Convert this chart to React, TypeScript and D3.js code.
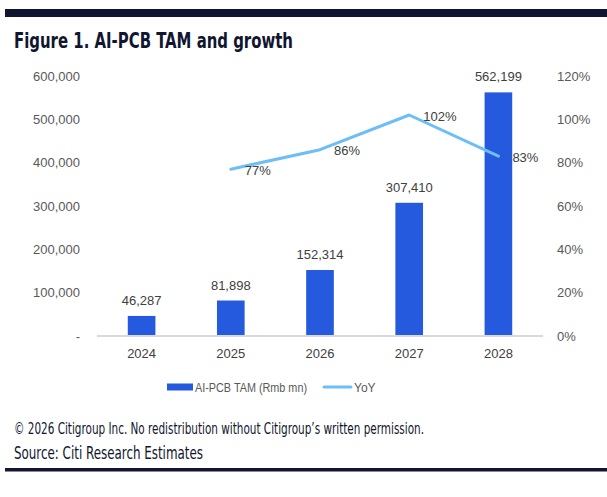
import React, { useEffect, useRef } from "react";
import * as d3 from "d3";

const years = ["2024", "2025", "2026", "2027", "2028"];
const tam = [46287, 81898, 152314, 307410, 562199];
const yoy = [null, 77, 86, 102, 83];
const leftTicks = [0, 100000, 200000, 300000, 400000, 500000, 600000];
const rightTicks = [0, 20, 40, 60, 80, 100, 120];

const NAVY = "#10162f";
const BAR = "#255ade";
const LINE = "#6dbdf6";
const AXIS_FONT = "'Liberation Sans', Arial, sans-serif";
const NARROW_FONT = "'Liberation Sans Narrow', 'DejaVu Sans Condensed', sans-serif";

const App = () => {
    const svgRef = useRef<SVGSVGElement>(null);

    useEffect(() => {
        const width = 607, height = 497;
        const plotLeft = 97, plotRight = 543;
        const plotTop = 76, plotBottom = 336;

        const svg = d3.select(svgRef.current)
            .attr("width", width)
            .attr("height", height);

        svg.selectAll("*").remove();

        svg.append("rect").attr("width", width).attr("height", height).attr("fill", "#fff");

        // header / footer rules
        svg.append("rect").attr("x", 5).attr("y", 9).attr("width", width - 5).attr("height", 8).attr("fill", NAVY);
        svg.append("rect").attr("x", 5).attr("y", 468).attr("width", width - 5).attr("height", 3.5).attr("fill", NAVY);

        svg.append("text")
            .attr("x", 14).attr("y", 48)
            .attr("font-family", NARROW_FONT)
            .attr("font-weight", "bold")
            .attr("font-size", 22)
            .attr("fill", NAVY)
            .attr("textLength", 279)
            .attr("lengthAdjust", "spacingAndGlyphs")
            .text("Figure 1. AI-PCB TAM and growth");

        const x = d3.scaleBand<string>()
            .domain(years)
            .range([plotLeft, plotRight])
            .paddingInner(0.69)
            .paddingOuter(0.345);

        const yLeft = d3.scaleLinear().domain([0, 600000]).range([plotBottom, plotTop]);
        const yRight = d3.scaleLinear().domain([0, 120]).range([plotBottom, plotTop]);

        // left axis labels, zero shown as a dash
        svg.append("g").selectAll("text")
            .data(leftTicks)
            .enter().append("text")
            .attr("x", 80)
            .attr("y", d => yLeft(d))
            .attr("dy", "0.35em")
            .attr("text-anchor", "end")
            .attr("font-family", AXIS_FONT)
            .attr("font-size", 13)
            .attr("fill", "#595959")
            .text(d => d === 0 ? "-" : d3.format(",")(d));

        svg.append("g").selectAll("text")
            .data(rightTicks)
            .enter().append("text")
            .attr("x", 557)
            .attr("y", d => yRight(d))
            .attr("dy", "0.35em")
            .attr("font-family", AXIS_FONT)
            .attr("font-size", 13)
            .attr("fill", "#595959")
            .text(d => d + "%");

        svg.append("g").selectAll("rect")
            .data(years)
            .enter().append("rect")
            .attr("x", d => x(d)!)
            .attr("width", x.bandwidth())
            .attr("y", (d, i) => yLeft(tam[i]))
            .attr("height", (d, i) => plotBottom - yLeft(tam[i]))
            .attr("fill", BAR);

        svg.append("line")
            .attr("x1", plotLeft).attr("x2", plotRight)
            .attr("y1", plotBottom).attr("y2", plotBottom)
            .attr("stroke", "#d9d9d9")
            .attr("stroke-width", 2);

        svg.append("g").selectAll("text")
            .data(years)
            .enter().append("text")
            .attr("x", d => x(d)! + x.bandwidth() / 2)
            .attr("y", 353)
            .attr("dy", "0.35em")
            .attr("text-anchor", "middle")
            .attr("font-family", AXIS_FONT)
            .attr("font-size", 13)
            .attr("fill", "#404040")
            .text(d => d);

        // bar value labels
        svg.append("g").selectAll("text")
            .data(years)
            .enter().append("text")
            .attr("x", d => x(d)! + x.bandwidth() / 2)
            .attr("y", (d, i) => yLeft(tam[i]) - 11)
            .attr("text-anchor", "middle")
            .attr("font-family", AXIS_FONT)
            .attr("font-size", 13)
            .attr("fill", "#404040")
            .text((d, i) => d3.format(",")(tam[i]));

        const linePts = years
            .map((d, i) => ({ year: d, v: yoy[i] }))
            .filter(p => p.v !== null) as { year: string; v: number }[];

        const line = d3.line<{ year: string; v: number }>()
            .x(p => x(p.year)! + x.bandwidth() / 2)
            .y(p => yRight(p.v));

        svg.append("path")
            .datum(linePts)
            .attr("d", line)
            .attr("fill", "none")
            .attr("stroke", LINE)
            .attr("stroke-width", 3)
            .attr("stroke-linejoin", "round")
            .attr("stroke-linecap", "round");

        svg.append("g").selectAll("text")
            .data(linePts)
            .enter().append("text")
            .attr("x", p => x(p.year)! + x.bandwidth() / 2 + 14)
            .attr("y", p => yRight(p.v) + 1)
            .attr("dy", "0.35em")
            .attr("font-family", AXIS_FONT)
            .attr("font-size", 13)
            .attr("fill", "#404040")
            .text(p => p.v + "%");

        // legend
        const legend = svg.append("g").attr("font-family", AXIS_FONT).attr("font-size", 12).attr("fill", "#595959");
        legend.append("rect").attr("x", 167).attr("y", 383.5).attr("width", 26).attr("height", 7).attr("fill", BAR);
        legend.append("text").attr("x", 195).attr("y", 387.5).attr("dy", "0.35em")
            .attr("textLength", 112).attr("lengthAdjust", "spacingAndGlyphs")
            .text("AI-PCB TAM (Rmb mn)");
        legend.append("line")
            .attr("x1", 324).attr("x2", 351).attr("y1", 387).attr("y2", 387)
            .attr("stroke", LINE).attr("stroke-width", 3).attr("stroke-linecap", "round");
        legend.append("text").attr("x", 354).attr("y", 387.5).attr("dy", "0.35em").text("YoY");

        svg.append("text")
            .attr("x", 14).attr("y", 428)
            .attr("dy", "0.35em")
            .attr("font-family", NARROW_FONT)
            .attr("font-size", 16)
            .attr("fill", NAVY)
            .attr("textLength", 410)
            .attr("lengthAdjust", "spacingAndGlyphs")
            .text("© 2026 Citigroup Inc. No redistribution without Citigroup’s written permission.");

        svg.append("text")
            .attr("x", 14).attr("y", 453)
            .attr("dy", "0.35em")
            .attr("font-family", NARROW_FONT)
            .attr("font-size", 17)
            .attr("fill", NAVY)
            .attr("textLength", 189)
            .attr("lengthAdjust", "spacingAndGlyphs")
            .text("Source: Citi Research Estimates");
    }, []);

    return <svg ref={svgRef} style={{ position: "absolute", left: 0, top: 0, display: "block" }}></svg>;
};

export default App;
